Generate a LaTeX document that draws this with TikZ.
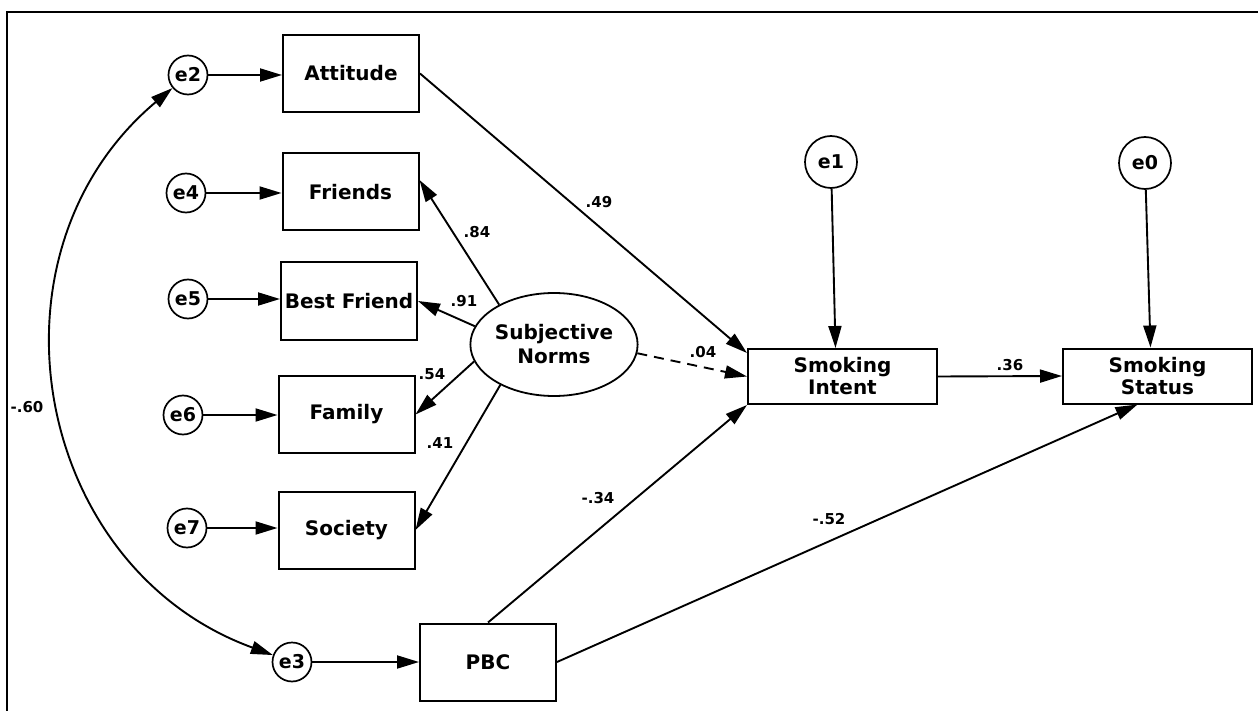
\documentclass[tikz,border=0pt]{standalone}
\usepackage{fontspec}
\setmainfont{DejaVu Sans}
\usetikzlibrary{arrows.meta,shapes.geometric}
\begin{document}
\begin{tikzpicture}[x=1pt,y=-1pt,
  >={Triangle[length=22pt,width=13pt]},
  var/.style={draw, rectangle, line width=2pt, minimum width=136pt, minimum height=77pt,
    inner sep=0pt, align=center, font=\fontsize{20}{22}\selectfont\bfseries},
  wide/.style={var, minimum width=189pt, minimum height=55pt},
  latent/.style={draw, ellipse, line width=1.8pt, minimum width=154pt, minimum height=103pt,
    inner sep=0pt, align=center, font=\fontsize{20}{24}\selectfont\bfseries},
  err/.style={draw, circle, line width=1.7pt, minimum size=39pt, inner sep=0pt,
    font=\fontsize{19}{20}\selectfont\bfseries},
  bigerr/.style={err, minimum size=52pt},
  pathway/.style={->, line width=1.9pt},
  coef/.style={inner sep=0pt, font=\fontsize{15}{16}\selectfont\bfseries},
]
% canvas and frame
\useasboundingbox (0,0) rectangle (1258,711);
\path[fill=white] (0,0) rectangle (1258,711);
\draw[line width=2.2pt] (7,712) -- (7,12) -- (1259,12);

% observed variables
\node[var] (att) at (351,73.5) {Attitude};
\node[var] (fr)  at (350.5,192) {Friends};
\node[var] (bf)  at (349,301) {Best Friend};
\node[var] (fam) at (346.5,414.5) {Family};
\node[var] (soc) at (346.5,530) {Society};
\node[var] (pbc) at (488,662) {PBC};
\node[wide] (si) at (842.5,376.5) {Smoking\\Intent};
\node[wide] (ss) at (1157.5,376) {Smoking\\Status};

% latent variable
\node[latent] (sn) at (554,344.5) {Subjective\\Norms};

% error terms
\node[err] (e2) at (188,75) {e2};
\node[err] (e4) at (186,193) {e4};
\node[err] (e5) at (188,299) {e5};
\node[err] (e6) at (183,415) {e6};
\node[err] (e7) at (187,528) {e7};
\node[err] (e3) at (292,662) {e3};
\node[bigerr] (e1) at (831,162) {e1};
\node[bigerr] (e0) at (1145,163) {e0};

% error paths
\draw[pathway] (e2) -- (e2 -| att.west);
\draw[pathway] (e4) -- (e4 -| fr.west);
\draw[pathway] (e5) -- (e5 -| bf.west);
\draw[pathway] (e6) -- (e6 -| fam.west);
\draw[pathway] (e7) -- (e7 -| soc.west);
\draw[pathway] (e3) -- (e3 -| pbc.west);
\draw[pathway] (e1) -- ([xshift=-7pt]si.north);
\draw[pathway] (e0) -- ([xshift=-7pt]ss.north);

% covariance between e2 and e3
\draw[<->, line width=1.9pt] (e2) to[out=220, in=160, looseness=1.14] (e3);

% loadings of subjective norms
\draw[pathway] (sn.144) -- ([yshift=12pt]fr.east);
\draw[pathway] (sn.167) -- (bf.east);
\draw[pathway] (sn.192) -- (fam.east);
\draw[pathway] (sn.217) -- (soc.east);

% structural paths
\draw[pathway] (att.east) -- ([yshift=-5pt]si.north west);
\draw[pathway, dash pattern=on 10pt off 7pt] (sn.354) -- (si.west);
\draw[pathway] (pbc.north) -- (si.south west);
\draw[pathway] (pbc.east) -- ([xshift=-20pt]ss.south);
\draw[pathway] (si.east) -- (ss.west);

% coefficients
\node[coef] (c49) at (599,202) {.49};
\node[coef] (c84) at (477,232) {.84};
\node[coef] (c91) at (464,301) {.91};
\node[coef] (c54) at (432,374) {.54};
\node[coef] (c41) at (440,443) {.41};
\node[coef] (c04) at (703,352) {.04};
\node[coef] (c34) at (598,498) {-.34};
\node[coef] (c52) at (829,519) {-.52};
\node[coef] (c36) at (1010,365) {.36};
\node[coef] (c60) at (27,407) {-.60};
\end{tikzpicture}
\end{document}
